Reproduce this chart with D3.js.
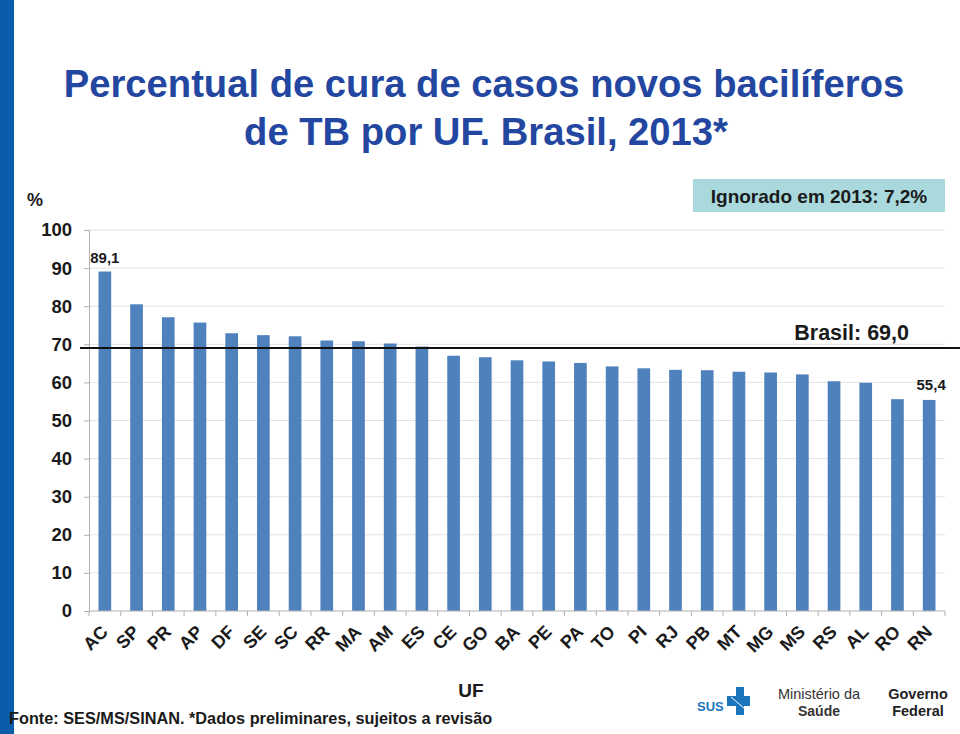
<!DOCTYPE html>
<html><head><meta charset="utf-8">
<script src="https://cdn.jsdelivr.net/npm/d3@7"></script>
<style>
body{margin:0;background:#fff;}
svg{display:block;font-family:"Liberation Sans",Arial,sans-serif;}
</style></head>
<body>
<svg id="chart" width="960" height="734"></svg>
<script>
const categories = ["AC","SP","PR","AP","DF","SE","SC","RR","MA","AM","ES","CE","GO","BA","PE","PA","TO","PI","RJ","PB","MT","MG","MS","RS","AL","RO","RN"];
const values = [89.1,80.5,77.1,75.7,72.9,72.4,72.1,71.0,70.8,70.2,69.4,67.0,66.6,65.8,65.5,65.1,64.2,63.7,63.3,63.2,62.8,62.6,62.1,60.3,59.9,55.6,55.4];
const yTicks = [0,10,20,30,40,50,60,70,80,90,100];
const brasil = 69.0;
const titleLines = ["Percentual de cura de casos novos bacilíferos","de TB por UF. Brasil, 2013*"];

const svg = d3.select("#chart");
const M = {left:89, right:945, top:230, bottom:611};

// left blue stripe
svg.append("rect").attr("x",0).attr("y",0).attr("width",14).attr("height",734).attr("fill","#0b5cab");

// title
svg.append("text").attr("x",484).attr("y",97).attr("text-anchor","middle")
  .attr("font-size",38.2).attr("font-weight","bold").attr("fill","#2346a0").text(titleLines[0]);
svg.append("text").attr("x",486).attr("y",145).attr("text-anchor","middle")
  .attr("font-size",38.2).attr("font-weight","bold").attr("fill","#2346a0").text(titleLines[1]);

const x = d3.scaleBand().domain(categories).range([M.left,M.right]).paddingInner(0.6).paddingOuter(0.3);
const y = d3.scaleLinear().domain([0,100]).range([M.bottom,M.top]);

// gridlines
svg.append("g").selectAll("line").data(yTicks.filter(d=>d>0)).join("line")
  .attr("x1",M.left).attr("x2",M.right).attr("y1",d=>y(d)).attr("y2",d=>y(d))
  .attr("stroke","#e3e3e3").attr("stroke-width",1);

// y axis
const yAxis = svg.append("g").attr("transform",`translate(${M.left},0)`)
  .call(d3.axisLeft(y).tickValues(yTicks).tickSize(5).tickFormat(d3.format("d")));
yAxis.select(".domain").attr("stroke","#b0b0b0");
yAxis.selectAll(".tick line").attr("stroke","#b0b0b0");
yAxis.selectAll(".tick text").attr("x",-17).attr("font-size",18.5).attr("font-weight","bold")
  .attr("fill","#1a1a1a").attr("font-family","Liberation Sans, Arial, sans-serif");

svg.append("text").attr("x",27).attr("y",206).attr("font-size",18).attr("font-weight","bold").attr("fill","#1a1a1a").text("%");

// bars
svg.append("g").selectAll("rect").data(categories).join("rect")
  .attr("x",d=>x(d)).attr("width",x.bandwidth())
  .attr("y",(d,i)=>y(values[i])).attr("height",(d,i)=>y(0)-y(values[i]))
  .attr("fill","#4f81bd");

// x axis line + ticks at band boundaries
svg.append("line").attr("x1",M.left).attr("x2",M.right).attr("y1",y(0)).attr("y2",y(0)).attr("stroke","#b0b0b0");
const step = x.step();
const boundaries = categories.map(d=>x(d)+x.bandwidth()/2-step/2).concat([x(categories[categories.length-1])+x.bandwidth()/2+step/2]);
svg.append("g").selectAll("line").data(boundaries).join("line")
  .attr("x1",d=>d).attr("x2",d=>d).attr("y1",y(0)).attr("y2",y(0)+5).attr("stroke","#b0b0b0");

// x labels, rotated -45deg
svg.append("g").selectAll("text").data(categories).join("text")
  .attr("transform",d=>`translate(${x(d)+x.bandwidth()/2+4},${y(0)+22}) rotate(-45)`)
  .attr("text-anchor","end").attr("font-size",18)
  .attr("font-weight","bold").attr("fill","#1a1a1a").text(d=>d);

// Brasil line
svg.append("line").attr("x1",80).attr("x2",960).attr("y1",y(brasil)).attr("y2",y(brasil))
  .attr("stroke","#111").attr("stroke-width",2);
svg.append("text").attr("x",909).attr("y",340).attr("text-anchor","end").attr("font-size",21.5)
  .attr("font-weight","bold").attr("fill","#1a1a1a").text("Brasil: 69,0");

// value labels
const c0 = categories[0], cN = categories[categories.length-1];
svg.append("text").attr("x",x(c0)+x.bandwidth()/2).attr("y",y(values[0])-9).attr("text-anchor","middle")
  .attr("font-size",15).attr("font-weight","bold").attr("fill","#1a1a1a").text("89,1");
svg.append("text").attr("x",x(cN)+x.bandwidth()/2+2).attr("y",y(values[values.length-1])-10).attr("text-anchor","middle")
  .attr("font-size",15).attr("font-weight","bold").attr("fill","#1a1a1a").text("55,4");

// Ignorado box
svg.append("rect").attr("x",693).attr("y",179).attr("width",252).attr("height",33).attr("fill","#a9d9dd");
svg.append("text").attr("x",819).attr("y",203).attr("text-anchor","middle").attr("font-size",19)
  .attr("font-weight","bold").attr("fill","#1a1a1a").text("Ignorado em 2013: 7,2%");

// axis title
svg.append("text").attr("x",471).attr("y",697).attr("text-anchor","middle").attr("font-size",19)
  .attr("font-weight","bold").attr("fill","#1a1a1a").text("UF");

// footer
svg.append("text").attr("x",9).attr("y",724).attr("font-size",16.3)
  .attr("font-weight","bold").attr("fill","#1a1a1a").text("Fonte: SES/MS/SINAN. *Dados preliminares, sujeitos a revisão");

// logos
const lg = svg.append("g");
lg.append("text").attr("x",697).attr("y",711).attr("font-size",13).attr("font-weight","bold").attr("fill","#1b75bc").text("SUS");
lg.append("rect").attr("x",736).attr("y",687).attr("width",8).attr("height",28).attr("fill","#1b75bc");
lg.append("rect").attr("x",727).attr("y",696).attr("width",23).attr("height",10).attr("fill","#1b75bc");
lg.append("line").attr("x1",731).attr("y1",697).attr("x2",745).attr("y2",709).attr("stroke","#fff").attr("stroke-width",1);
lg.append("text").attr("x",819).attr("y",699).attr("text-anchor","middle").attr("font-size",14.5).attr("fill","#333").text("Ministério da");
lg.append("text").attr("x",819).attr("y",716).attr("text-anchor","middle").attr("font-size",14).attr("font-weight","bold").attr("fill","#333").text("Saúde");
lg.append("text").attr("x",918).attr("y",699).attr("text-anchor","middle").attr("font-size",14.5).attr("font-weight","bold").attr("fill","#222").text("Governo");
lg.append("text").attr("x",918).attr("y",716).attr("text-anchor","middle").attr("font-size",14.5).attr("font-weight","bold").attr("fill","#222").text("Federal");
</script>
</body></html>
